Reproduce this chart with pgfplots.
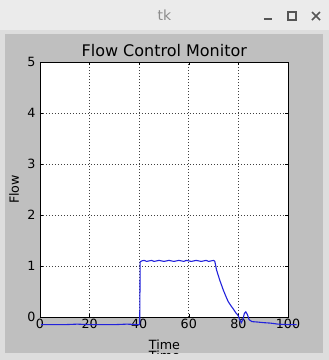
\documentclass[border=0pt]{standalone}
\usepackage{pgfplots}
\pgfplotsset{compat=1.18}
\usepackage{fontspec}
\setmainfont{DejaVu Sans}
\definecolor{titlebar}{HTML}{EBEBEB}
\definecolor{winbg}{HTML}{DDDDDD}
\definecolor{figbg}{HTML}{BFBFBF}
\definecolor{linecol}{RGB}{35,35,220}
\definecolor{btn}{HTML}{555555}
\begin{document}
\begin{tikzpicture}[x=1pt,y=1pt]
\useasboundingbox (0,0) rectangle (329,360);
% window
\fill[winbg] (0,0) rectangle (329,360);
\fill[titlebar] (0,330) rectangle (329,360);
\node[text=gray!90,font=\fontsize{14}{16}\selectfont] at (164.5,345) {tk};
\draw[btn,line width=1.6pt] (264,341) -- (272,341);
\draw[btn,line width=1.3pt] (288,340) rectangle (296,348);
\draw[btn,line width=1.6pt] (312,340) -- (320,348) (312,348) -- (320,340);
% figure area
\fill[figbg] (5,7) rectangle (323.5,326.5);
\begin{axis}[
  at={(40pt,43pt)}, anchor=south west,
  scale only axis, width=248pt, height=255pt,
  xmin=0, xmax=100, ymin=0, ymax=5,
  xtick={0,20,40,60,80,100}, ytick={0,1,2,3,4,5},
  axis background/.style={fill=white},
  axis line style={black, line width=0.8pt},
  tick align=inside, major tick length=3pt,
  tick style={black, line width=0.5pt},
  grid=major, major grid style={black!75, line width=0.6pt, dash pattern=on 0.8pt off 2.2pt},
  /pgf/number format/assume math mode=true,
  tick label style={font=\fontsize{12.7}{14}\selectfont},
  xticklabel style={yshift=1pt},
  yticklabel style={xshift=-1pt},
  clip=false,
]
\addplot[linecol, line width=1.1pt, mark=none] coordinates {
(0.5,-0.15) (10,-0.15) (15,-0.14) (20,-0.15) (30,-0.15) (35,-0.14) (40.2,-0.15)
(40.4,1.08) (41,1.10) (42,1.11) (43,1.09) (44,1.10) (45,1.11) (46,1.09) (47,1.10)
(48,1.11) (49,1.10) (50,1.09) (51,1.10) (52,1.11) (53,1.10) (54,1.09) (55,1.10)
(56,1.11) (57,1.10) (58,1.09) (59,1.11) (60,1.10) (61,1.09) (62,1.10) (63,1.11)
(64,1.10) (65,1.09) (66,1.10) (67,1.11) (68,1.09) (69,1.10) (70,1.11) (70.5,1.09)
(71.2,0.92) (72.5,0.72) (73.9,0.53) (75,0.40) (75.9,0.30) (77,0.22) (77.9,0.16)
(79,0.08) (79.9,0.03) (80.5,-0.05) (81.2,-0.11) (81.8,-0.05) (82.4,0.07) (83,0.10)
(83.6,0.05) (84.3,-0.05) (85.4,-0.09) (88,-0.10) (90,-0.11) (93,-0.12) (96,-0.14)
(100,-0.15) (103.5,-0.15)
};
\end{axis}
% labels
\node[font=\fontsize{16}{18}\selectfont, anchor=base] at (164.3,304) {Flow Control Monitor};
\node[font=\fontsize{12.7}{14}\selectfont, anchor=base, rotate=90] at (19,170.5) {Flow};
\node[font=\fontsize{12.7}{14}\selectfont, anchor=base] at (164.5,11) {Time};
\node[font=\fontsize{12.7}{14}\selectfont, anchor=base] at (164.5,-0.5) {Time};
\fill[winbg] (0,0) rectangle (329,6);
\end{tikzpicture}
\end{document}
